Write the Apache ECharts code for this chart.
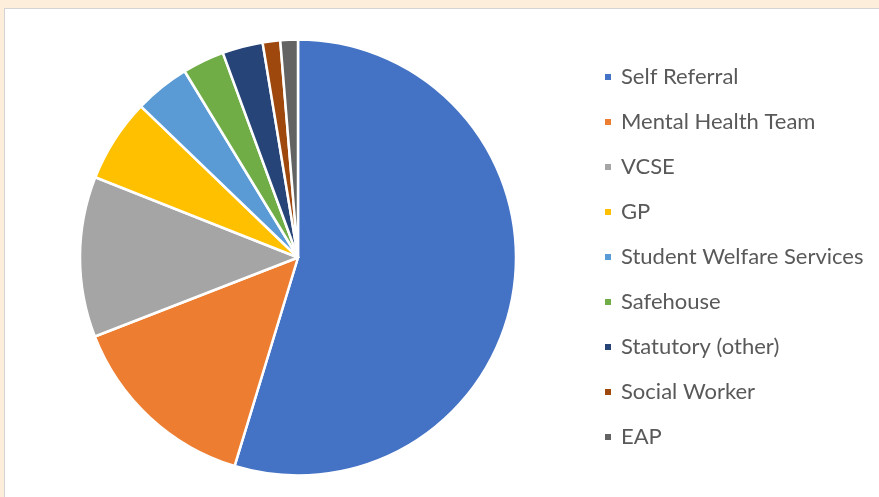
<!DOCTYPE html>
<html>
<head>
<meta http-equiv="Content-Type" content="text/html; charset=utf-8" />
<title>Referral sources</title>
<script type="text/javascript" src="https://cdn.jsdelivr.net/npm/echarts@6/dist/echarts.min.js"></script>
<style>
  html, body { margin: 0; padding: 0; width: 879px; height: 497px; overflow: hidden; background: #fdeedb; }
  #panel { position: absolute; left: 4px; top: 8px; width: 880px; height: 500px; background: #fff;
           border-left: 1px solid #d4d4d4; border-top: 1px solid #d4d4d4; }
  #chart { position: absolute; left: 0; top: 0; width: 879px; height: 497px; }
</style>
</head>
<body>
<div id="panel"></div>
<div id="chart"></div>

<script type="text/javascript">
    var categories = ['Self Referral', 'Mental Health Team', 'VCSE', 'GP', 'Student Welfare Services',
                      'Safehouse', 'Statutory (other)', 'Social Worker', 'EAP'];
    var shares = [54.7, 14.4, 11.9, 6.2, 4.1, 3.1, 3.0, 1.3, 1.3];
    var colors = ['#4472c4', '#ed7d31', '#a5a5a5', '#ffc000', '#5b9bd5', '#70ad47', '#264478', '#9e480e', '#636363'];

    var pieData = [];
    categories.forEach(function(name, i){
        pieData.push({ name: name, value: shares[i] });
    });

    var myChart = echarts.init(document.getElementById('chart'));
    myChart.setOption({
        animation: false,
        color: colors,
        legend: {
            orient: 'vertical',
            left: 603,
            top: 66,
            padding: 0,
            icon: 'rect',
            itemWidth: 8,
            itemHeight: 8,
            itemGap: 23,
            textStyle: {
                fontFamily: 'Lato',
                fontSize: 22,
                lineHeight: 22,
                color: '#595959',
                padding: [0, 0, 0, 4]
            },
            data: categories
        },
        series: [
            {
                type: 'pie',
                center: [298, 257.5],
                radius: 218,
                startAngle: 90,
                clockwise: true,
                label: { show: false },
                labelLine: { show: false },
                itemStyle: { borderColor: '#fff', borderWidth: 2.5 },
                emphasis: { disabled: true },
                data: pieData
            }
        ]
    });
</script>
</body>
</html>
